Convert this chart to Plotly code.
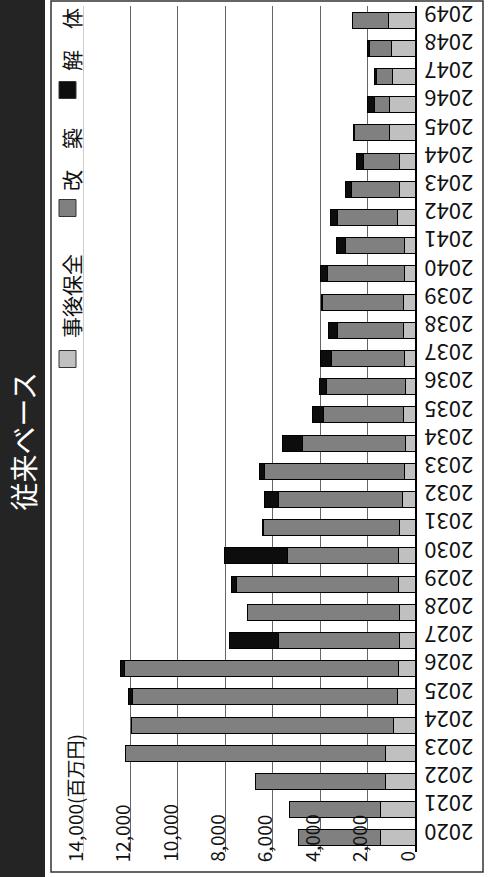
import plotly.graph_objects as go

# 年度（2020〜2049）
years = [str(y) for y in range(2020, 2050)]

# 事後保全（百万円）
jigo_hozen = [1476, 1476, 1237, 1237, 886, 731, 703, 661, 661, 703,
              675, 633, 534, 450, 380, 492, 380, 450, 492, 492,
              450, 450, 745, 633, 661, 1082, 1082, 942, 984, 1125]
# 改築（百万円）
kaichiku = [3444, 3823, 5482, 10964, 11062, 11175, 11568, 5088, 6409, 6845,
            4695, 5735, 5229, 5876, 4357, 3374, 3345, 3064, 2769, 3400,
            3247, 2502, 2516, 2038, 1518, 1476, 605, 674, 914, 1504]
# 解体（百万円）
kaitai = [0, 0, 0, 0, 20, 169, 141, 2081, 0, 183,
          2684, 70, 563, 238, 844, 449, 323, 464, 366, 30,
          309, 351, 323, 239, 281, 30, 323, 71, 112, 0]

series_names = ["事後保全", "改築", "解体"]
legend_labels = ["事後保全", "改　築", "解　体"]
series_colors = ["#c0c0c0", "#808080", "#0d0d0d"]

value_ticks = [0, 2000, 4000, 6000, 8000, 10000, 12000, 14000]
value_ticktext = ["0", "2,000", "4,000", "6,000", "8,000", "10,000", "12,000", "14,000(百万円)"]

title_text = "従来ベース"

W, H = 493, 877
L, R, T, B = 83, 415, 6, 852
FONT = "Noto Sans CJK JP"


def px_x(px):
    return (px - L) / (R - L)


def px_y(py):
    return (B - py) / (B - T)


fig = go.Figure()
for name, vals, col in zip(series_names, [jigo_hozen, kaichiku, kaitai], series_colors):
    fig.add_trace(go.Bar(
        y=years, x=vals, name=name, orientation="h",
        marker=dict(color=col, line=dict(color="#000000", width=1)),
        showlegend=False,
    ))

shapes = [
    # dark title band
    dict(type="rect", xref="paper", yref="paper", x0=px_x(0), x1=px_x(45),
         y0=px_y(0), y1=px_y(H), fillcolor="#242424", line=dict(width=0), layer="below"),
    # outer frame
    dict(type="rect", xref="paper", yref="paper", x0=px_x(51), x1=px_x(483),
         y0=px_y(1), y1=px_y(872), fillcolor="rgba(0,0,0,0)",
         line=dict(color="#333333", width=1.5)),
    # outermost value line
    dict(type="line", xref="x", yref="paper", x0=value_ticks[-1], x1=value_ticks[-1],
         y0=0, y1=1, line=dict(color="#999999", width=1), layer="below"),
]
annotations = [
    dict(text=title_text, xref="paper", yref="paper", x=px_x(22.5), y=px_y(441),
         showarrow=False, textangle=-90, font=dict(family=FONT, size=28, color="#ffffff"),
         xanchor="center", yanchor="middle"),
]

# value-axis labels, reading upward from just under the plot
for v, t in zip(value_ticks, value_ticktext):
    annotations.append(dict(text=t, xref="x", yref="paper", x=v, y=px_y(864),
                            showarrow=False, textangle=-90, xshift=-9,
                            xanchor="center", yanchor="bottom",
                            font=dict(family=FONT, size=19, color="#111111")))

# legend column (square + rotated label)
legend_sq_centers = [359, 208, 90]
legend_txt_centers = [296, 160, 40]
for lab, col, sq, tc in zip(legend_labels, series_colors, legend_sq_centers, legend_txt_centers):
    shapes.append(dict(type="rect", xref="paper", yref="paper",
                       x0=px_x(59), x1=px_x(76), y0=px_y(sq + 8.5), y1=px_y(sq - 8.5),
                       fillcolor=col, line=dict(color="#333333", width=1)))
    annotations.append(dict(text=lab, xref="paper", yref="paper", x=px_x(71), y=px_y(tc),
                            showarrow=False, textangle=-90,
                            font=dict(family=FONT, size=21, color="#111111"),
                            xanchor="center", yanchor="middle"))

fig.update_layout(
    width=W, height=H,
    margin=dict(l=L, r=W - R, t=T, b=H - B),
    paper_bgcolor="#ffffff", plot_bgcolor="#ffffff",
    barmode="stack", bargap=0.43,
    shapes=shapes, annotations=annotations,
    xaxis=dict(
        range=[14000, 0], tickvals=value_ticks, showticklabels=False, ticks="",
        showgrid=True, gridcolor="#666666", gridwidth=1,
        zeroline=False, showline=False, automargin=False,
    ),
    yaxis=dict(
        type="category", side="right", range=[-0.5, 29.5],
        tickangle=180, ticks="", ticklabelstandoff=52,
        showline=True, linecolor="#000000", linewidth=1.5,
        showgrid=False, automargin=False,
        tickfont=dict(family=FONT, size=22, color="#111111"),
    ),
)

fig.write_html("out.html")
